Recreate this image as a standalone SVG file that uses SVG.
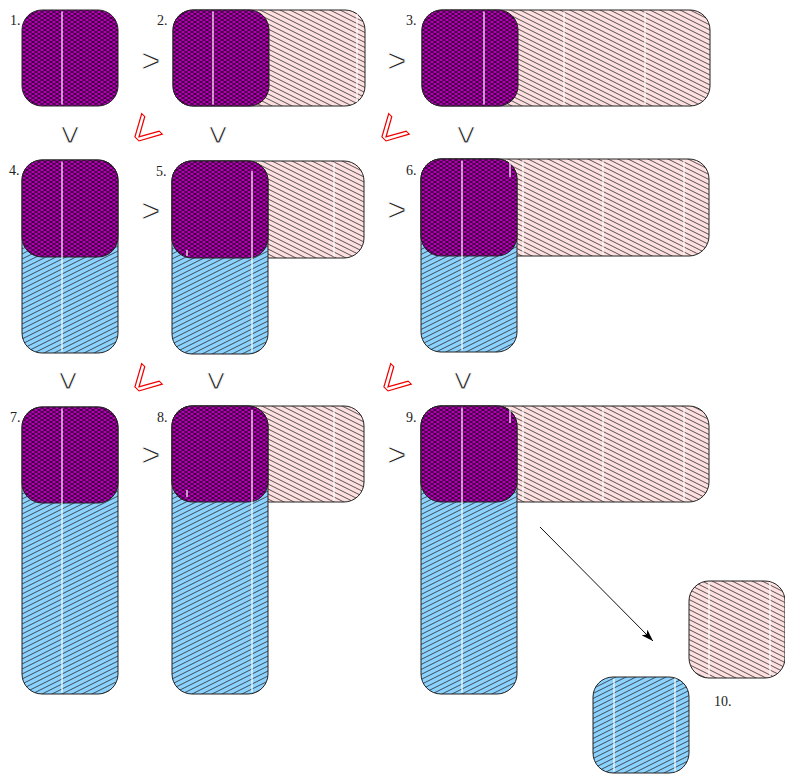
<svg xmlns="http://www.w3.org/2000/svg" width="785" height="777" viewBox="0 0 785 777">
<defs>
<pattern id="hp" width="10" height="5" patternUnits="userSpaceOnUse">
<rect width="10" height="5" fill="#ffe0e0"/>
<path d="M-2,-1 L12,6 M-2,4 L2,6 M8,-1 L12,1" stroke="#222" stroke-width="0.75" fill="none"/>
</pattern>
<pattern id="hb" width="10" height="5" patternUnits="userSpaceOnUse">
<rect width="10" height="5" fill="#8cd2ff"/>
<path d="M-2,6 L12,-1 M-2,1 L2,-1 M8,6 L12,4" stroke="#222" stroke-width="0.75" fill="none"/>
</pattern>
<pattern id="hm" width="6" height="4" patternUnits="userSpaceOnUse">
<rect width="6" height="4" fill="#b400b4"/>
<path d="M-1.5,-1 L7.5,5 M-1.5,5 L7.5,-1" stroke="#000" stroke-width="0.7" fill="none"/>
</pattern>
<marker id="ah" viewBox="0 0 12 8" refX="12" refY="4" markerWidth="12" markerHeight="8" markerUnits="userSpaceOnUse" orient="auto">
<path d="M0,0 L12,4 L0,8 L3,4 Z" fill="#000"/>
</marker>
</defs>
<style>
.p{fill:url(#hp);stroke:#222;stroke-width:1}
.b{fill:url(#hb);stroke:#222;stroke-width:1}
.m{fill:url(#hm);stroke:#222;stroke-width:1}
.w{stroke:#fff;stroke-width:1.2}
.lbl{font-family:"Liberation Serif",serif;font-size:14px;fill:#222}
.gt{font-family:"Liberation Sans",sans-serif;font-size:33px;fill:#222;stroke:#fff;stroke-width:0.9;text-anchor:middle}
.rd{font-family:"Liberation Sans",sans-serif;font-size:44px;fill:#fff;stroke:#e00;stroke-width:1;text-anchor:middle}
</style>

<g id="n1">
<rect class="m" x="22" y="10" width="96" height="96" rx="20"/>
<line class="w" x1="62" y1="11.5" x2="62" y2="104.5"/>
<text class="lbl" x="10" y="25">1.</text>
</g>

<g id="n2">
<rect class="p" x="173" y="10" width="192" height="96" rx="20"/>
<rect class="m" x="173" y="10" width="96" height="96" rx="20"/>
<line class="w" x1="213" y1="11.5" x2="213" y2="104.5"/>
<line class="w" x1="357" y1="14" x2="357" y2="102"/>
<text class="lbl" x="157" y="25">2.</text>
</g>

<g id="n3">
<rect class="p" x="422" y="10" width="288" height="96" rx="20"/>
<rect class="m" x="422" y="10" width="96" height="96" rx="20"/>
<line class="w" x1="484" y1="11.5" x2="484" y2="104.5"/>
<line class="w" x1="564" y1="11.5" x2="564" y2="104.5"/>
<line class="w" x1="645" y1="11.5" x2="645" y2="104.5"/>
<text class="lbl" x="406" y="25">3.</text>
</g>

<g id="n4">
<rect class="b" x="22" y="160" width="96" height="193" rx="20"/>
<rect class="m" x="22" y="160" width="96" height="97" rx="20"/>
<line class="w" x1="62" y1="161.5" x2="62" y2="351.5"/>
<text class="lbl" x="9" y="175">4.</text>
</g>

<g id="n5">
<rect class="p" x="172" y="161" width="192" height="97" rx="20"/>
<rect class="b" x="172" y="161" width="96" height="193" rx="20"/>
<rect class="m" x="172" y="161" width="96" height="97" rx="20"/>
<line class="w" x1="252" y1="171" x2="252" y2="352"/>
<line class="w" x1="334" y1="162.5" x2="334" y2="256.5"/>
<line class="w" x1="187" y1="250" x2="187" y2="256"/>
<text class="lbl" x="156" y="176">5.</text>
</g>

<g id="n6">
<rect class="p" x="421" y="159" width="288" height="97" rx="20"/>
<rect class="b" x="421" y="159" width="96" height="193" rx="20"/>
<rect class="m" x="421" y="159" width="96" height="97" rx="20"/>
<line class="w" x1="462" y1="160.5" x2="462" y2="350.5"/>
<line class="w" x1="523" y1="160.5" x2="523" y2="254.5"/>
<line class="w" x1="603" y1="160.5" x2="603" y2="254.5"/>
<line class="w" x1="684" y1="160.5" x2="684" y2="254.5"/>
<line class="w" x1="510" y1="163" x2="510" y2="177"/>
<text class="lbl" x="406" y="175">6.</text>
</g>

<g id="n7">
<rect class="b" x="22" y="407" width="96" height="287" rx="20"/>
<rect class="m" x="22" y="407" width="96" height="96" rx="20"/>
<line class="w" x1="62" y1="408.5" x2="62" y2="692.5"/>
<text class="lbl" x="10" y="422">7.</text>
</g>

<g id="n8">
<rect class="p" x="172" y="406" width="192" height="96" rx="20"/>
<rect class="b" x="172" y="406" width="96" height="288" rx="20"/>
<rect class="m" x="172" y="406" width="96" height="96" rx="20"/>
<line class="w" x1="252" y1="410" x2="252" y2="692"/>
<line class="w" x1="334" y1="407.5" x2="334" y2="500.5"/>
<line class="w" x1="187" y1="490" x2="187" y2="497"/>
<text class="lbl" x="157" y="422">8.</text>
</g>

<g id="n9">
<rect class="p" x="421" y="406" width="288" height="96" rx="20"/>
<rect class="b" x="421" y="406" width="96" height="288" rx="20"/>
<rect class="m" x="421" y="406" width="96" height="96" rx="20"/>
<line class="w" x1="462" y1="407.5" x2="462" y2="692.5"/>
<line class="w" x1="523" y1="407.5" x2="523" y2="500.5"/>
<line class="w" x1="603" y1="407.5" x2="603" y2="500.5"/>
<line class="w" x1="684" y1="407.5" x2="684" y2="500.5"/>
<line class="w" x1="510" y1="408" x2="510" y2="423"/>
<text class="lbl" x="406" y="422">9.</text>
</g>

<g id="n10">
<rect class="p" x="689" y="581" width="96" height="97" rx="20"/>
<rect class="b" x="593" y="677" width="96" height="96" rx="20"/>
<line class="w" x1="709" y1="582.5" x2="709" y2="676.5"/>
<line class="w" x1="770" y1="582.5" x2="770" y2="676.5"/>
<line class="w" x1="614" y1="678.5" x2="614" y2="771.5"/>
<line class="w" x1="675" y1="678.5" x2="675" y2="771.5"/>
<text class="lbl" x="714" y="706">10.</text>
</g>

<g id="connectors">
<text class="gt" x="151" y="71.5">&gt;</text>
<text class="gt" x="397" y="71.5">&gt;</text>
<text class="gt" x="151" y="222">&gt;</text>
<text class="gt" x="397" y="221">&gt;</text>
<text class="gt" x="151" y="466">&gt;</text>
<text class="gt" x="397" y="466">&gt;</text>
<text class="gt" transform="translate(70,135) rotate(90)" x="0" y="11.5">&gt;</text>
<text class="gt" transform="translate(218,135) rotate(90)" x="0" y="11.5">&gt;</text>
<text class="gt" transform="translate(466,135) rotate(90)" x="0" y="11.5">&gt;</text>
<text class="gt" transform="translate(68,381) rotate(90)" x="0" y="11.5">&gt;</text>
<text class="gt" transform="translate(216,381) rotate(90)" x="0" y="11.5">&gt;</text>
<text class="gt" transform="translate(463,381) rotate(90)" x="0" y="11.5">&gt;</text>
<text class="rd" transform="translate(145,132) rotate(135) scale(1,1.3)" x="0" y="15">&gt;</text>
<text class="rd" transform="translate(392,132) rotate(135) scale(1,1.3)" x="0" y="15">&gt;</text>
<text class="rd" transform="translate(145,382) rotate(135) scale(1,1.3)" x="0" y="15">&gt;</text>
<text class="rd" transform="translate(394,382) rotate(135) scale(1,1.3)" x="0" y="15">&gt;</text>
<line x1="540" y1="527" x2="653" y2="641" stroke="#111" stroke-width="1" marker-end="url(#ah)"/>
</g>
</svg>
